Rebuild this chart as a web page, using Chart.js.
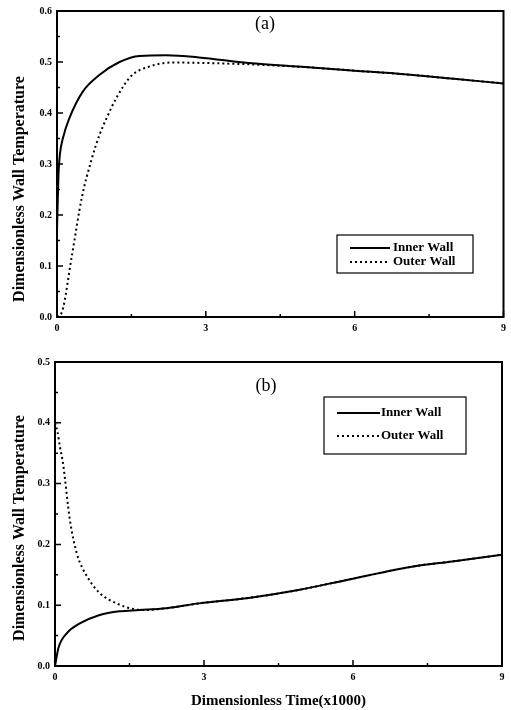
<!DOCTYPE html>
<html>
<head>
<meta charset="utf-8">
<script src="https://cdn.jsdelivr.net/npm/chart.js@4.4.0/dist/chart.umd.min.js"></script>
<style>
  body { margin: 0; background: #fff; }
  #wrapA { position: absolute; left: 0; top: 0; width: 511px; height: 340px; }
  #wrapB { position: absolute; left: 0; top: 340px; width: 511px; height: 370px; }
</style>
</head>
<body>
<div id="wrapA"><canvas id="chartA" width="511" height="340"></canvas></div>
<div id="wrapB"><canvas id="chartB" width="511" height="370"></canvas></div>
<script>
// panel (a) data
const innerTimeA = [0, 0.03, 0.06, 0.12, 0.25, 0.52, 0.86, 1.26, 1.66, 2.2, 2.86, 3.86, 5, 6, 7, 8, 9];
const innerTempA = [0.17, 0.28, 0.32, 0.351, 0.39, 0.442, 0.475, 0.5, 0.512, 0.513, 0.509, 0.498, 0.49, 0.483, 0.476, 0.467, 0.458];
const outerTimeA = [0, 0.1, 0.3, 0.5, 0.7, 0.86, 1.0, 1.2, 1.5, 1.86, 2.3, 3, 4, 5, 6, 7, 8, 9];
const outerTempA = [0, 0.01, 0.12, 0.234, 0.31, 0.358, 0.39, 0.43, 0.473, 0.491, 0.499, 0.498, 0.495, 0.49, 0.483, 0.476, 0.467, 0.458];

// panel (b) data
const innerTimeB = [0, 0.07, 0.24, 0.5, 0.9, 1.3, 1.7, 2.24, 2.9, 3.9, 4.9, 5.9, 7.24, 8, 9];
const innerTempB = [0, 0.03, 0.054, 0.07, 0.084, 0.09, 0.092, 0.095, 0.103, 0.112, 0.125, 0.142, 0.164, 0.172, 0.183];
const outerTimeB = [0, 0.05, 0.1, 0.16, 0.3, 0.44, 0.64, 0.9, 1.24, 1.56, 1.8, 2.24, 2.9, 3.9, 4.9, 5.9, 7.24, 8, 9];
const outerTempB = [0.4, 0.385, 0.36, 0.334, 0.24, 0.185, 0.148, 0.12, 0.103, 0.094, 0.092, 0.095, 0.103, 0.112, 0.125, 0.142, 0.164, 0.172, 0.183];

// axis ticks
const xTicks = [0, 3, 6, 9];
const xMinor = [1.5, 4.5, 7.5];
const yTicksA = [0, 0.1, 0.2, 0.3, 0.4, 0.5, 0.6];
const yTicksB = [0, 0.1, 0.2, 0.3, 0.4, 0.5];
const seriesNames = ['Inner Wall', 'Outer Wall'];

const SERIF = '"Liberation Serif", "DejaVu Serif", serif';

function toPoints(xs, ys){
    return xs.map((x, i) => ({x: x, y: ys[i]}));
}

// frame, inward ticks, y title, panel label and boxed legend
const paperPlugin = {
    id: 'paper',
    afterDraw(chart, args, opts){
        const ctx = chart.ctx;
        const a = chart.chartArea;
        const xs = chart.scales.x, ys = chart.scales.y;
        ctx.save();
        ctx.strokeStyle = '#000';
        ctx.lineWidth = 2;
        ctx.strokeRect(a.left, a.top, a.right - a.left, a.bottom - a.top);

        ctx.lineWidth = 1.5;
        ctx.beginPath();
        xTicks.forEach(v => { const p = xs.getPixelForValue(v); ctx.moveTo(p, a.bottom); ctx.lineTo(p, a.bottom - 6); });
        xMinor.forEach(v => { const p = xs.getPixelForValue(v); ctx.moveTo(p, a.bottom); ctx.lineTo(p, a.bottom - 3); });
        opts.yTicks.forEach(v => { const p = ys.getPixelForValue(v); ctx.moveTo(a.left, p); ctx.lineTo(a.left + 6, p); });
        for (let i = 0; i < opts.yTicks.length - 1; i++) {
            const p = ys.getPixelForValue((opts.yTicks[i] + opts.yTicks[i + 1]) / 2);
            ctx.moveTo(a.left, p); ctx.lineTo(a.left + 3, p);
        }
        ctx.stroke();

        ctx.fillStyle = '#000';
        ctx.textAlign = 'center';
        ctx.textBaseline = 'middle';

        // y axis title (sits a little below the centre in the original)
        ctx.save();
        ctx.translate(opts.yTitleX, opts.yTitleY);
        ctx.rotate(-Math.PI / 2);
        ctx.font = 'bold 16px ' + SERIF;
        ctx.fillText('Dimensionless Wall Temperature', 0, 0);
        ctx.restore();

        // panel label
        ctx.font = '18px ' + SERIF;
        ctx.fillText(opts.label, opts.labelX, opts.labelY);

        // legend box
        const L = opts.legend;
        ctx.lineWidth = 1.2;
        ctx.strokeRect(L.x, L.y, L.w, L.h);
        ctx.font = 'bold 13px ' + SERIF;
        ctx.textAlign = 'left';
        chart.data.datasets.slice().reverse().forEach((ds, i) => {
            const yy = L.y + L.row0 + i * L.rowGap;
            ctx.beginPath();
            ctx.lineWidth = ds.borderWidth;
            ctx.setLineDash(ds.borderDash || []);
            ctx.moveTo(L.x + L.lineX0, yy);
            ctx.lineTo(L.x + L.lineX1, yy);
            ctx.stroke();
            ctx.setLineDash([]);
            ctx.fillText(ds.label, L.x + L.textX, yy);
        });
        ctx.restore();
    }
};

function makePanel(canvasId, inner, outer, yMax, yTicks, panelOpts, layout){
    const ctx = document.getElementById(canvasId).getContext('2d');
    return new Chart(ctx, {
        type: 'line',
        data: {
            datasets: [
                {
                    label: seriesNames[1],
                    data: outer,
                    borderColor: '#000',
                    borderWidth: 2,
                    borderDash: [2, 3],
                    pointRadius: 0,
                    cubicInterpolationMode: 'monotone',
                    fill: false
                },
                {
                    label: seriesNames[0],
                    data: inner,
                    borderColor: '#000',
                    borderWidth: 2,
                    pointRadius: 0,
                    cubicInterpolationMode: 'monotone',
                    fill: false
                }
            ]
        },
        options: {
            responsive: false,
            animation: false,
            devicePixelRatio: 1,
            layout: { padding: { top: layout.top, right: layout.right, left: 0, bottom: 0 } },
            plugins: {
                legend: { display: false },
                tooltip: { enabled: false },
                paper: Object.assign({ yTicks: yTicks }, panelOpts)
            },
            scales: {
                x: {
                    type: 'linear',
                    min: 0,
                    max: 9,
                    afterBuildTicks: s => { s.ticks = xTicks.map(v => ({value: v})); },
                    ticks: { font: { family: SERIF, size: 10, weight: 'bold' }, color: '#000', padding: 5, maxRotation: 0 },
                    grid: { display: false, drawTicks: false },
                    border: { display: false },
                    title: layout.xTitle ? {
                        display: true,
                        text: layout.xTitle,
                        font: { family: SERIF, size: 15, weight: 'bold' },
                        color: '#000',
                        padding: { top: 0, bottom: 0 }
                    } : { display: false },
                    afterFit: s => { s.height = layout.xHeight; }
                },
                y: {
                    min: 0,
                    max: yMax,
                    afterBuildTicks: s => { s.ticks = yTicks.map(v => ({value: v})); },
                    ticks: {
                        font: { family: SERIF, size: 10, weight: 'bold' },
                        color: '#000',
                        padding: 5,
                        callback: v => v.toFixed(1)
                    },
                    grid: { display: false, drawTicks: false },
                    border: { display: false },
                    title: { display: false },
                    afterFit: s => { s.width = layout.yWidth; }
                }
            }
        },
        plugins: [paperPlugin]
    });
}

makePanel('chartA', toPoints(innerTimeA, innerTempA), toPoints(outerTimeA, outerTempA), 0.6, yTicksA,
    { label: '(a)', labelX: 265, labelY: 24, yTitleX: 20, yTitleY: 189,
      legend: { x: 337, y: 235, w: 136, h: 38, row0: 13, rowGap: 14, lineX0: 13, lineX1: 53, textX: 56 } },
    { top: 9, right: 5, yWidth: 57, xHeight: 23 });

makePanel('chartB', toPoints(innerTimeB, innerTempB), toPoints(outerTimeB, outerTempB), 0.5, yTicksB,
    { label: '(b)', labelX: 266, labelY: 46, yTitleX: 20, yTitleY: 188,
      legend: { x: 324, y: 57, w: 142, h: 57, row0: 16, rowGap: 23, lineX0: 13, lineX1: 56, textX: 57 } },
    { top: 22, right: 9, yWidth: 55, xHeight: 44, xTitle: 'Dimensionless Time(x1000)' });
</script>
</body>
</html>
